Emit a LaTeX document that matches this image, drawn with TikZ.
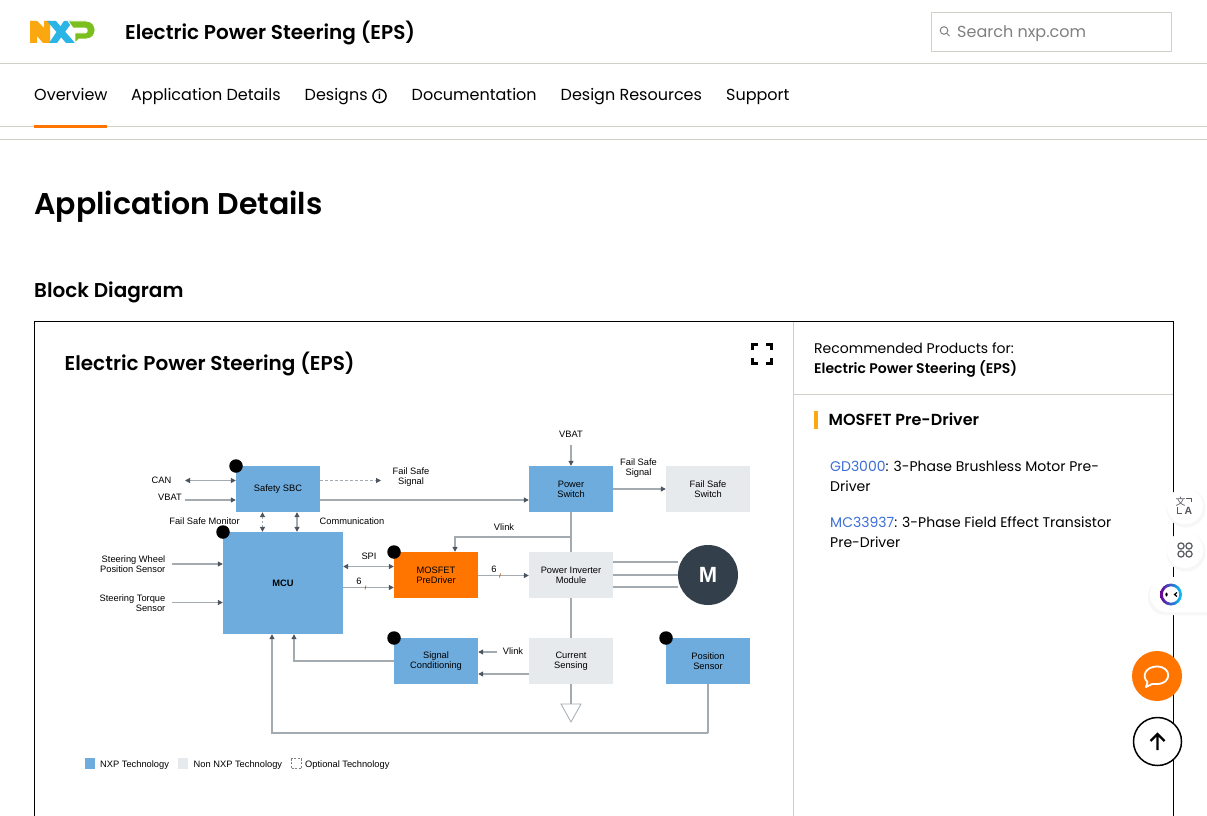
\documentclass[tikz,border=0pt]{standalone}
\usepackage{fontspec}
\setmainfont{Poppins}
\newfontfamily\arl{Liberation Sans}
\newfontfamily\popsb{Poppins SemiBold}
\newfontfamily\cjkf{Noto Sans CJK SC}
\usetikzlibrary{arrows.meta}
\definecolor{nxpblue}{HTML}{6FACDE}
\definecolor{nongrey}{HTML}{E6EAED}
\definecolor{rule}{HTML}{D2CFC8}
\definecolor{conn}{HTML}{A4ABB0}
\definecolor{tipc}{HTML}{4A5560}
\definecolor{orangeb}{HTML}{FF7500}
\definecolor{linkb}{HTML}{3D6FD8}
\definecolor{motor}{HTML}{333F4A}
\definecolor{iconc}{HTML}{55585F}
\definecolor{lgn}{HTML}{FBA70F}
\definecolor{lgx}{HTML}{2BB4E6}
\definecolor{lgp}{HTML}{7ABF1E}
\newcommand{\fs}[1]{\fontsize{#1}{10}\selectfont}
\newcommand{\dn}[2]{\raisebox{-#1pt}{#2}}
\tikzset{
 blk/.style={minimum width=84pt,minimum height=46pt,inner sep=0pt,align=center,font=\arl\fs{9.3}},
 bluek/.style={blk,fill=nxpblue},
 greyk/.style={blk,fill=nongrey},
 orangek/.style={blk,fill=orangeb},
 lbl/.style={inner sep=0pt,align=center,font=\arl\fs{9.3}},
 lblr/.style={inner sep=0pt,align=right,font=\arl\fs{9.3}},
 dot/.style={circle,fill=black,minimum size=13.5pt,inner sep=0pt},
 conline/.style={draw=conn,line width=1.1pt},
 ar/.style={conline,-{Triangle[length=5pt,width=5pt,fill=tipc,color=tipc]}},
 arb/.style={conline,{Triangle[length=5pt,width=5pt,fill=tipc,color=tipc]}-{Triangle[length=5pt,width=5pt,fill=tipc,color=tipc]}},
 ui/.style={inner sep=0pt,anchor=base west,text=black},
}
\begin{document}
\begin{tikzpicture}[x=1pt,y=-1pt]
\useasboundingbox (0,0) rectangle (1207,816);
\fill[white] (0,0) rectangle (1207,816);
% header rules
\draw[rule,line width=1pt] (0,63.5) -- (1207,63.5);
\draw[rule,line width=1pt] (0,126.5) -- (1207,126.5);
\draw[rule,line width=1pt] (0,139.5) -- (1207,139.5);
\fill[orangeb] (34,124.5) rectangle (107,127.5);
% logo
\fill[lgn] (30,21) -- (37,21) -- (44,28) -- (44,21) -- (50,21) -- (50,43) -- (43,43) -- (37,36) -- (37,43) -- (30,43) -- cycle;
\fill[lgx] (47,21) -- (56,21) -- (75,43) -- (66,43) -- cycle;
\fill[lgx] (64,21) -- (73,21) -- (57,43) -- (49,43) -- cycle;
\fill[lgp,draw=white,line width=.8pt] (68,21) -- (86,21) .. controls (98,21) and (98,39) .. (86,39) -- (79,39) -- (75,43) -- (75,33) -- (85,33) .. controls (88,33) and (88,28) .. (85,28) -- (73,28) -- cycle;
% header text
\node[ui,font=\popsb\fs{20}] (ttl) at (125,39.5) {Electric Power Steering (EPS)};
\draw[rule,line width=1pt] (931.5,12.5) rectangle (1171.5,51.5);
\node[ui,font=\fs{16},text=gray] (srch) at (957,37.5) {Search nxp.com};
\draw[gray,line width=1pt] (944,30.5) circle (3.8pt);
\draw[gray,line width=1pt] (946.8,33.3) -- (949.5,36);
% tabs
\node[ui,font=\fs{16}] (t1) at (34,100) {Overview};
\node[ui,font=\fs{16}] (t2) at (131,100) {Application Details};
\node[ui,font=\fs{16}] (t3) at (304.5,100) {Designs};
\draw[black,line width=1.4pt] (379.5,96) circle (6.6pt);
\node[inner sep=0pt,font=\arl\bfseries\fs{10.5}] (ii) at (379.5,96) {i};
\node[ui,font=\fs{16}] (t4) at (411.5,100) {Documentation};
\node[ui,font=\fs{16}] (t5) at (560.5,100) {Design Resources};
\node[ui,font=\fs{16}] (t6) at (726,100) {Support};
% headings
\node[ui,font=\popsb\fs{30}] (h1) at (34,214) {Application Details};
\node[ui,font=\popsb\fs{20}] (h2) at (34,297) {Block Diagram};
% panel
\draw[black,line width=1pt] (34.5,816.5) -- (34.5,321.5) -- (1173.5,321.5) -- (1173.5,816.5);
\draw[rule,line width=1pt] (793.5,322) -- (793.5,816);
\draw[rule,line width=1pt] (794,394.5) -- (1173,394.5);
\node[ui,font=\popsb\fs{20}] (h3) at (64.5,370) {Electric Power Steering (EPS)};
% expand icon
\draw[black,line width=2.8pt] (752.5,350) -- (752.5,344.5) -- (758,344.5) (766,344.5) -- (771.5,344.5) -- (771.5,350) (771.5,358) -- (771.5,363.5) -- (766,363.5) (758,363.5) -- (752.5,363.5) -- (752.5,358);
% right panel
\node[ui,font=\fs{14}] (r1) at (814,353) {Recommended Products for:};
\node[ui,font=\popsb\fs{14}] (r2) at (814,373) {Electric Power Steering (EPS)};
\fill[lgn] (814,411) rectangle (818,429);
\node[ui,font=\popsb\fs{16}] (r3) at (828.5,425) {MOSFET Pre-Driver};
\node[ui,font=\fs{14}] (r4) at (830,471) {\textcolor{linkb}{GD3000}: 3-Phase Brushless Motor Pre-};
\node[ui,font=\fs{14}] (r5) at (830,491) {Driver};
\node[ui,font=\fs{14}] (r6) at (830,527) {\textcolor{linkb}{MC33937}: 3-Phase Field Effect Transistor};
\node[ui,font=\fs{14}] (r7) at (830,547) {Pre-Driver};
% blocks
\node[bluek] (sbc) at (278,489) {\dn{1.5}{Safety SBC}};
\node[bluek,minimum width=120pt,minimum height=102pt,font=\arl\bfseries\fs{9.3}] (mcu) at (283,583) {MCU};
\node[orangek] (mos) at (436,575) {MOSFET\\PreDriver};
\node[bluek] (psw) at (571,489) {Power\\Switch};
\node[greyk] (fss) at (708,489) {Fail Safe\\Switch};
\node[greyk] (inv) at (571,575) {Power Inverter\\Module};
\node[bluek] (sig) at (436,661) {\dn{1}{Signal}\\\dn{1}{Conditioning}};
\node[greyk] (cur) at (571,661) {\dn{1.8}{Current}\\\dn{1.8}{Sensing}};
\node[bluek] (pos) at (708,661) {\dn{1.8}{Position}\\\dn{1.8}{Sensor}};
\node[circle,fill=motor,minimum size=60pt,inner sep=0pt,text=white,font=\arl\bfseries\fs{22}] (mot) at (708,575) {M};
% dots
\node[dot] (d1) at (236,466) {};
\node[dot] (d2) at (223,532) {};
\node[dot] (d3) at (394,552) {};
\node[dot] (d4) at (394,638) {};
\node[dot] (d5) at (666,638) {};
% labels
\node[lbl] (lcan) at (161.5,480) {CAN};
\node[lbl] (lvb1) at (170,497) {VBAT};
\node[lbl] (lfsm) at (204.5,521) {Fail Safe Monitor};
\node[lbl] (lcom) at (352,521) {Communication};
\node[lblr,anchor=east] (lsw) at (165.5,564) {Steering Wheel\\Position Sensor};
\node[lblr,anchor=east] (lst) at (165.5,603) {Steering Torque\\Sensor};
\node[lbl] (lfs1) at (411,477) {Fail Safe\\Signal};
\node[lbl] (lvb2) at (571,434) {VBAT};
\node[lbl] (lfs2) at (638.5,468) {Fail Safe\\Signal};
\node[lbl] (lvl1) at (504,527.5) {Vlink};
\node[lbl] (lspi) at (369,556.5) {SPI};
\node[lbl] (l61) at (359,581) {6};
\node[lbl] (l62) at (494,569) {6};
\node[lbl] (lvl2) at (513,651) {Vlink};
% connectors
\coordinate (canw) at (185,480.5);
\coordinate (vbw) at (185,500);
\draw[arb] (canw) -- (canw -| sbc.west);
\draw[ar] (vbw) -- (vbw -| sbc.west);
\coordinate (fse) at (381,480.5);
\draw[ar,dash pattern=on 3pt off 2pt] (fse -| sbc.east) -- (fse);
\draw[ar] (sbc.east |- 0,500) -- (psw.west |- 0,500);
\draw[arb,dash pattern=on 2.5pt off 1.5pt] (sbc.south -| 262.5,0) -- (mcu.north -| 262.5,0);
\draw[arb] (sbc.south -| 297,0) -- (mcu.north -| 297,0);
\coordinate (swe) at (172,564);
\coordinate (ste) at (172,602.5);
\draw[ar] (swe) -- (swe -| mcu.west);
\draw[ar] (ste) -- (ste -| mcu.west);
\draw[arb] (mcu.east |- 0,566.5) -- (mos.west |- 0,566.5);
\draw[ar] (mcu.east |- 0,587.5) -- (mos.west |- 0,587.5);
\draw[orangeb!70!black,line width=.7pt] (365,589.5) -- (366,585.5);
\draw[ar] (mos.east |- 0,575.5) -- (inv.west |- 0,575.5);
\draw[orangeb!70!black,line width=.7pt] (499.5,577.5) -- (500.5,573.5);
\coordinate (vbs) at (571,445);
\draw[ar] (vbs) -- (psw.north);
\draw[ar] (psw.east |- 0,489) -- (fss.west |- 0,489);
\draw[conline] (psw.south) -- (inv.north);
\coordinate (vj) at (571,537);
\draw[ar] (vj) -| (mos.north -| 455,0);
\draw[conline] (inv.south) -- (cur.north);
\draw[conline] (inv.east |- 0,562) -- (mot.west |- 0,562);
\draw[conline] (inv.east |- 0,575) -- (mot.west);
\draw[conline] (inv.east |- 0,587) -- (mot.west |- 0,587);
\coordinate (vl) at (497,652);
\draw[ar] (vl) -- (vl -| sig.east);
\draw[ar] (cur.west |- 0,674) -- (sig.east |- 0,674);
\draw[ar] (sig.west) -| (mcu.south -| 294,0);
\coordinate (trit) at (571,704);
\draw[conline] (cur.south) -- (trit);
\draw[conn,line width=.8pt,fill=white] (561,704) -- (581,704) -- (571,722) -- cycle;
\coordinate (bot) at (708,733);
\draw[conline] (pos.south) -- (bot);
\draw[ar] (bot) -| (mcu.south -| 272,0);
% legend
\fill[nxpblue] (85,758) rectangle (95,769);
\node[ui,font=\arl\fs{9.3}] (lg1) at (100,767) {NXP Technology};
\fill[nongrey] (178,758) rectangle (188,769);
\node[ui,font=\arl\fs{9.3}] (lg2) at (193.5,767) {Non NXP Technology};
\draw[gray,line width=.6pt,dash pattern=on 2pt off 1.5pt] (291,758.5) rectangle (301,768.5);
\node[ui,font=\arl\fs{9.3}] (lg3) at (305,767) {Optional Technology};
% side buttons
\fill[black!3] (1186,508) circle (19.5pt);
\fill[white] (1185,506) circle (18pt);
\node[inner sep=0pt,font=\cjkf\fs{10},text=iconc] (ic1) at (1180.5,502) {文};
\node[inner sep=0pt,font=\arl\bfseries\fs{10.5},text=iconc] (ic2) at (1188.5,510.5) {A};
\draw[iconc,line width=1pt] (1186,498) -- (1191.5,498) -- (1191.5,502) (1177,507) -- (1177,513) -- (1182,513);
\fill[black!3] (1186,552) circle (19.5pt);
\fill[white] (1185,550) circle (18pt);
\foreach \a/\b in {1181/546,1189/546,1181/554,1189/554}
  \draw[iconc,line width=1.2pt] (\a,\b) circle (3.1pt);
\fill[black!3,rounded corners=17pt] (1148,579) rectangle (1240,615);
\fill[white,rounded corners=17.5pt] (1150,577) rectangle (1240,612);
\shade[left color=violet!85!blue,right color=cyan!80!blue,even odd rule] (1171,594.5) circle (11pt) (1171,594.5) circle (8.2pt);
\fill[black] (1166.5,594.5) ellipse (1.1pt and 2pt);
\draw[black,line width=1.2pt] (1177,592.5) -- (1174.5,594.5) -- (1177,596.5);
\fill[orangeb] (1157,676) circle (25pt);
\draw[white,line width=1.8pt,line join=round] (1157,666.5) .. controls (1172,666.5) and (1172,684) .. (1157,684) -- (1152,684) -- (1146,687) -- (1147.5,682) .. controls (1141,676) and (1146,666.5) .. (1157,666.5) -- cycle;
\draw[black,line width=1.5pt,fill=white] (1157.5,741.5) circle (24pt);
\draw[black,line width=2.4pt] (1157.5,750) -- (1157.5,734) (1150.5,741) -- (1157.5,734) -- (1164.5,741);
\end{tikzpicture}
\end{document}
